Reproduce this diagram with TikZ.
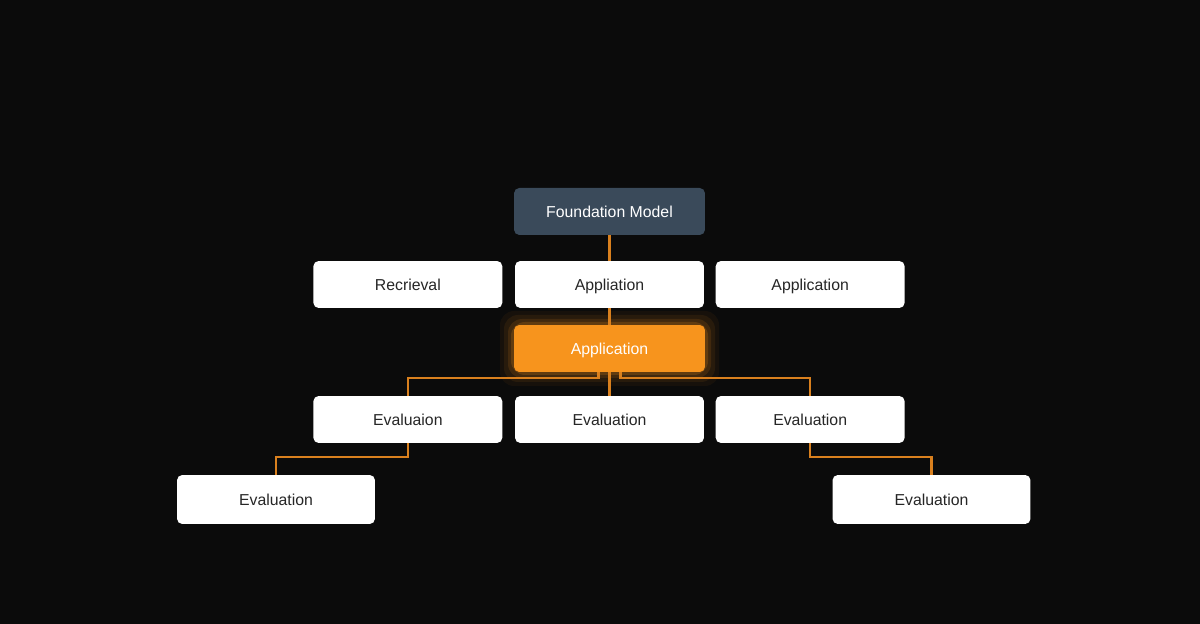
\documentclass[tikz,border=0pt]{standalone}
\usepackage{fontspec}
\setmainfont{Liberation Sans}
\usetikzlibrary{positioning, calc}

\definecolor{bgdark}{HTML}{0B0B0B}
\definecolor{slate}{HTML}{3A4A5A}
\definecolor{amber}{HTML}{F7941D}
\definecolor{wire}{HTML}{D9801E}

\tikzset{
  box/.style = {rectangle, rounded corners=3pt, fill=white, text=black!85,
                minimum width=3.78cm, minimum height=0.94cm, font=\small,
                text height=1.6ex, text depth=0.4ex},
  wide/.style = {box, minimum width=3.96cm, minimum height=0.98cm},
  link/.style = {draw=wire, line width=1.2pt}
}

\begin{document}
\begin{tikzpicture}[x=0.02cm, y=-0.02cm]
  \fill[bgdark] (0,0) rectangle (1200,624);
  \useasboundingbox (0,0) rectangle (1200,624);

  \node[box, fill=slate, text=white, minimum width=3.82cm] at (609.5,211.5) (fm) {Foundation Model};

  \node[box] at (609.5,284.5) (app1) {Appliation};
  \node[box, left = 0.24cm of app1] (ret) {Recrieval};
  \node[box, right = 0.22cm of app1] (app2) {Application};

  % glow behind the highlighted box
  \foreach \g/\o in {14/0.05, 10/0.08, 6/0.12, 3/0.18}
    \fill[amber, opacity=\o, rounded corners=8pt]
      (514-\g,325-\g) rectangle (705+\g,372+\g);
  \node[box, fill=amber, text=white, minimum width=3.82cm] at (609.5,348.5) (app) {Application};

  \node[box] at (609.5,419.5) (ev2) {Evaluation};
  \node[box, left = 0.24cm of ev2] (ev1) {Evaluaion};
  \node[box, right = 0.22cm of ev2] (ev3) {Evaluation};

  \node[wide] at (276,499.5) (ev4) {Evaluation};
  \node[wide] at (931.5,499.5) (ev5) {Evaluation};

  \draw[link] (fm) -- (app1);
  \draw[link] (app1) -- (app);
  \draw[link] (app) -- (ev2);
  \draw[link] ($(app.south)+(-11,0)$) |- ++(0,6) -| (ev1.north);
  \draw[link] ($(app.south)+(11,0)$) |- ++(0,6) -| (ev3.north);
  \draw[link] (ev1.south) |- ++(0,14) -| (ev4.north);
  \draw[link] (ev3.south) |- ++(0,14) -| (ev5.north);
\end{tikzpicture}
\end{document}
